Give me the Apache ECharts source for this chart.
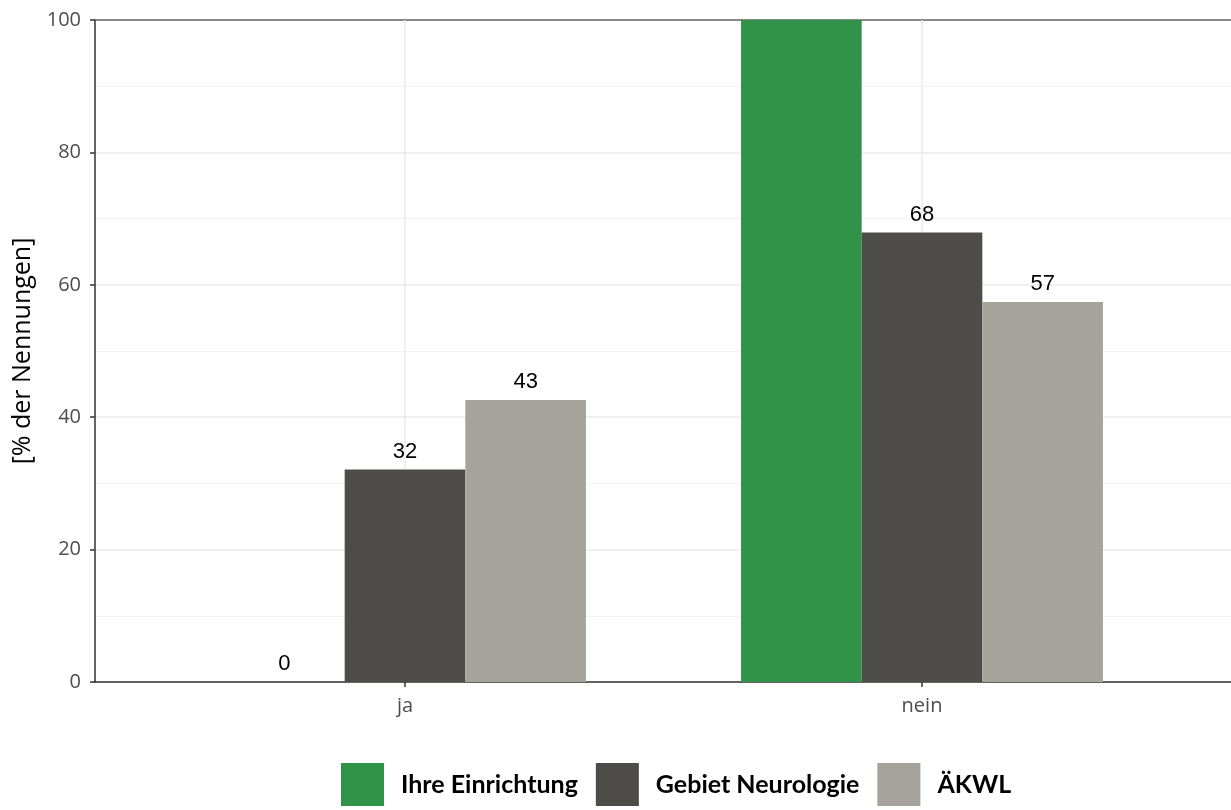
<!DOCTYPE html>
<html><head><meta charset="utf-8">
<script src="https://cdn.jsdelivr.net/npm/echarts@6/dist/echarts.min.js"></script>
<style>html,body{margin:0;padding:0;background:#fff}#c{width:1231px;height:810px}</style>
</head><body><div id="c"></div>
<script>
const categories = ['ja', 'nein'];
const seriesNames = ['Ihre Einrichtung', 'Gebiet Neurologie', 'ÄKWL'];
const ihreEinrichtung = [0, 100];
const gebietNeurologie = [32.1, 67.9];
const aekwl = [42.6, 57.4];
const colors = ['#31924a', '#4d4c48', '#a6a39c'];
const yTicks = [0, 20, 40, 60, 80, 100];
const yMax = 100;

const chart = echarts.init(document.getElementById('c'));
const valuesList = [ihreEinrichtung, gebietNeurologie, aekwl];
const series = valuesList.map((vals, i) => ({
  name: seriesNames[i], type: 'bar', data: vals, z: 2,
  xAxisIndex: 2, yAxisIndex: 1,
  barGap: '0%', barCategoryGap: '30%',
  itemStyle: { color: colors[i] },
  label: { show: true, position: 'top', distance: 7, color: '#000',
    fontFamily: 'Liberation Sans', fontSize: 22,
    formatter: p => p.value >= yMax ? '' : String(Math.round(p.value)) }
}));
series.push({
  name: 'vgrid', type: 'line', data: [], z: 1, xAxisIndex: 2, yAxisIndex: 1,
  markLine: { silent: true, symbol: 'none', z: 1, label: { show: false },
    lineStyle: { color: '#ebebeb', type: 'solid', width: 1.5 },
    data: categories.map(c => ({ xAxis: c })) }
});
chart.setOption({
  animation: false,
  color: colors,
  grid: [
    { left: 95, right: 0, top: 20, bottom: 128, containLabel: false },
    { left: 146.5, right: 50.5, top: 20, bottom: 128, containLabel: false }
  ],
  legend: {
    data: seriesNames, bottom: 4, left: 341, icon: 'rect', padding: 0,
    itemWidth: 43, itemHeight: 43, itemGap: 18,
    textStyle: { fontFamily: 'Lato', fontWeight: 'bold', fontSize: 25, color: '#000', padding: [0, 0, 0, 12] }
  },
  xAxis: [{
    gridIndex: 0, type: 'value', min: 0, max: 1,
    axisLine: { show: true, lineStyle: { color: '#333', width: 1.5 } },
    axisTick: { show: false }, axisLabel: { show: false }, splitLine: { show: false }
  }, {
    gridIndex: 0, type: 'value', min: 0, max: 1, position: 'top',
    axisLine: { show: true, lineStyle: { color: '#666', width: 1.5 } },
    axisTick: { show: false }, axisLabel: { show: false }, splitLine: { show: false }
  }, {
    gridIndex: 1, type: 'category', data: categories,
    axisLine: { show: false },
    axisTick: { show: true, alignWithLabel: true, length: 5, lineStyle: { color: '#333', width: 1.5 } },
    axisLabel: { color: '#4d4d4d', fontFamily: 'Open Sans', fontSize: 20, margin: 14 },
    splitLine: { show: false }
  }],
  yAxis: [{
    gridIndex: 0, type: 'value', min: 0, max: yMax, interval: 20,
    name: '[% der Nennungen]', nameLocation: 'middle', nameGap: 58,
    nameTextStyle: { fontFamily: 'Open Sans', fontSize: 25, color: '#000' },
    axisLine: { show: true, lineStyle: { color: '#333', width: 1.5 } },
    axisTick: { show: true, length: 5, lineStyle: { color: '#333', width: 1.5 } },
    axisLabel: { color: '#4d4d4d', fontFamily: 'Open Sans', fontSize: 20, margin: 14,
      formatter: v => yTicks.includes(v) ? String(v) : '' },
    splitLine: { lineStyle: { color: '#ebebeb', width: 1.5 } },
    minorTick: { show: false, splitNumber: 2 },
    minorSplitLine: { show: true, lineStyle: { color: '#f3f3f3', width: 1 } }
  }, {
    gridIndex: 1, type: 'value', min: 0, max: yMax, interval: 20, show: false
  }],
  series: series
});
</script></body></html>
